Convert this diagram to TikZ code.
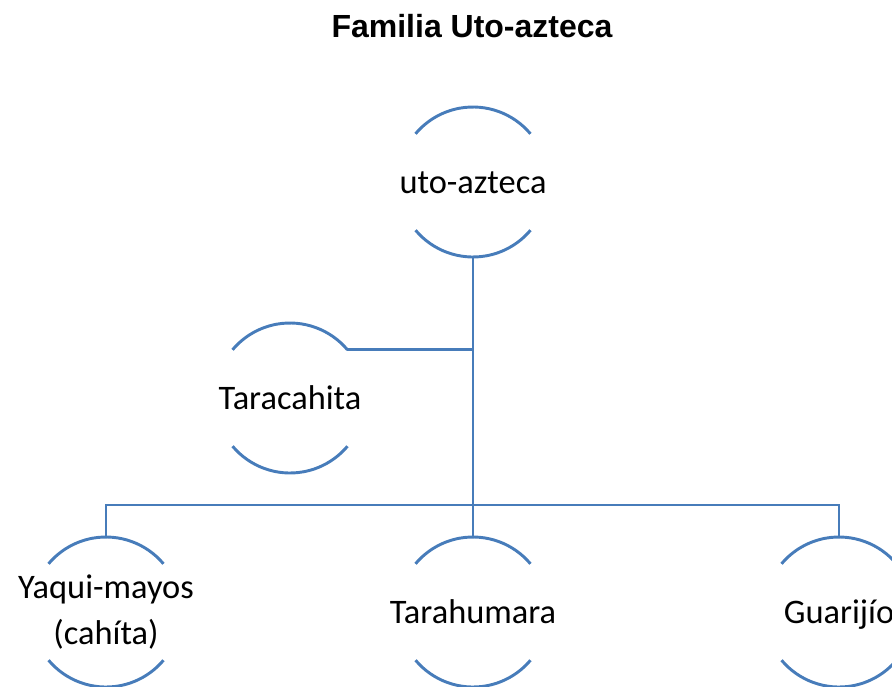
\documentclass[tikz,border=0pt]{standalone}
\usepackage{fontspec}
\setmainfont{Carlito}
\newfontfamily\titlefont{Liberation Sans}
\usepackage{tikz}
\usetikzlibrary{calc,positioning}
\definecolor{rimblue}{RGB}{71,124,186}
\tikzset{
  clan/.style={circle,minimum size=112.5pt,inner sep=0pt,outer sep=0pt},
  clantext/.style={align=center,inner sep=0pt,font=\fontsize{25.8}{35}\selectfont},
  oneline/.style={clantext,execute at begin node=\strut,yshift=-1.8pt},
  rim/.style={rimblue,line width=2.2pt},
  link/.style={rimblue,line width=2.2pt},
}
\begin{document}
\begin{tikzpicture}[x=0.75pt,y=-0.75pt]
          \useasboundingbox (0,0) rectangle (892,686);
          \clip (0,0) rectangle (892,686);
          \node[anchor=base,font=\titlefont\bfseries\fontsize{24}{28}\selectfont] (title) at (472,37) {Familia Uto-azteca};
          \node[clan,label={[oneline]center:uto-azteca}] (uto) at (473,182) {};
          \node[clan,label={[oneline]center:Taracahita}] (tara) at (290,398) {};
          \node[clan,label={[clantext]center:Yaqui-mayos\\(cahíta)}] (yaq) at (106,612) {};
          \node[clan,label={[oneline]center:Tarahumara}] (tar) at (473,612) {};
          \node[clan,label={[oneline]center:Guarijío}] (guar) at (839,612) {};
          \coordinate[above=24pt of tar.north] (bus);
          \foreach \n in {uto,tara,yaq,tar,guar}{
            \draw[rim] (\n.40) arc[start angle=40,end angle=140,radius=56.25pt];
            \draw[rim] (\n.220) arc[start angle=220,end angle=320,radius=56.25pt];
          }
          \draw[link] (uto.south) -- (uto.south |- bus);
          \draw[link] (tara.40) -- (tara.40 -| uto.south);
          \draw[link] (yaq.north) -- (yaq.north |- bus) -| (guar.north);
          \draw[link] (tar.north) -- (tar.north |- bus);
        \end{tikzpicture}
\end{document}
